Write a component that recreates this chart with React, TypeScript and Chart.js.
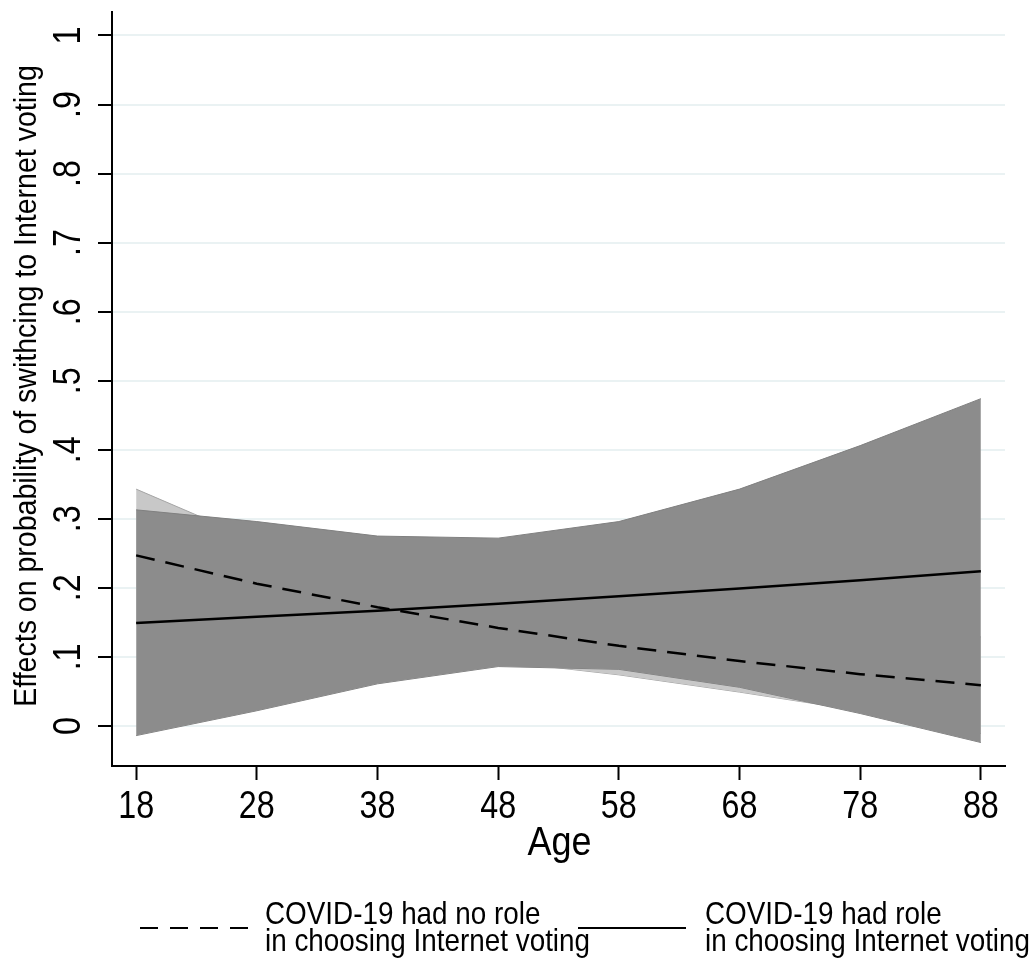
import React, { useEffect, useRef } from "react";
import { Chart, registerables } from "chart.js";
Chart.register(...registerables);

const ages = [18, 28, 38, 48, 58, 68, 78, 88];
const noRoleMean = [0.247, 0.206, 0.172, 0.142, 0.116, 0.094, 0.075, 0.059];
const noRoleUpper = [0.343, 0.268, 0.215, 0.19, 0.158, 0.139, 0.128, 0.129];
const noRoleLower = [0.151, 0.144, 0.129, 0.094, 0.074, 0.049, 0.022, -0.011];
const roleMean = [0.149, 0.158, 0.167, 0.177, 0.188, 0.199, 0.211, 0.224];
const roleUpper = [0.313, 0.296, 0.275, 0.272, 0.296, 0.343, 0.406, 0.474];
const roleLower = [-0.014, 0.022, 0.061, 0.086, 0.082, 0.056, 0.018, -0.024];

const xTicks = [18, 28, 38, 48, 58, 68, 78, 88];
const yTicks = [0, 0.1, 0.2, 0.3, 0.4, 0.5, 0.6, 0.7, 0.8, 0.9, 1];
const yTickLabels = ["0", ".1", ".2", ".3", ".4", ".5", ".6", ".7", ".8", ".9", "1"];

const legendLabels = [
  ["COVID-19 had no role", "in choosing Internet voting"],
  ["COVID-19 had role", "in choosing Internet voting"],
];
const yTitle = "Effects on probability of swithcing to Internet voting";
const xTitle = "Age";

const FONT = '"Liberation Sans", Arial, sans-serif';

const pts = (vals: number[]) => ages.map((a, i) => ({ x: a, y: vals[i] }));

function drawText(
  ctx: CanvasRenderingContext2D,
  text: string,
  x: number,
  y: number,
  size: number,
  sx: number,
  rot = 0,
  align: CanvasTextAlign = "center"
) {
  ctx.save();
  ctx.translate(x, y);
  if (rot) ctx.rotate(rot);
  ctx.scale(sx, 1);
  ctx.font = `${size}px ${FONT}`;
  ctx.textAlign = align;
  ctx.textBaseline = "middle";
  ctx.fillStyle = "#000";
  ctx.fillText(text, 0, 0);
  ctx.restore();
}

const textPlugin = {
  id: "stataTexts",
  afterDraw(chart: any) {
    const { ctx, chartArea } = chart;
    const xs = chart.scales.x;
    const ys = chart.scales.y;
    ctx.save();
    xTicks.forEach((v) => {
      drawText(ctx, String(v), xs.getPixelForValue(v), chartArea.bottom + 42, 38, 0.85);
    });
    yTicks.forEach((v, i) => {
      drawText(ctx, yTickLabels[i], chartArea.left - 42, ys.getPixelForValue(v), 38, 0.85, -Math.PI / 2);
    });
    drawText(ctx, xTitle, (chartArea.left + chartArea.right) / 2 + 1, chartArea.bottom + 78, 40, 0.9);
    drawText(ctx, yTitle, 27, (chartArea.top + chartArea.bottom) / 2 - 3, 31, 0.92, -Math.PI / 2);

    // legend
    const ly = 928;
    ctx.strokeStyle = "#000";
    ctx.lineWidth = 2;
    ctx.setLineDash([18, 12]);
    ctx.beginPath();
    ctx.moveTo(140, ly);
    ctx.lineTo(248, ly);
    ctx.stroke();
    ctx.setLineDash([]);
    ctx.beginPath();
    ctx.moveTo(578, ly);
    ctx.lineTo(686, ly);
    ctx.stroke();
    drawText(ctx, legendLabels[0][0], 265, 915, 32, 0.87, 0, "left");
    drawText(ctx, legendLabels[0][1], 265, 942, 32, 0.87, 0, "left");
    drawText(ctx, legendLabels[1][0], 705, 915, 32, 0.87, 0, "left");
    drawText(ctx, legendLabels[1][1], 705, 942, 32, 0.87, 0, "left");
    ctx.restore();
  },
};

export default function App() {
  const ref = useRef<HTMLCanvasElement | null>(null);
  useEffect(() => {
    document.body.style.margin = "0";
    const canvas = ref.current;
    if (!canvas) return;
    const chart = new Chart(canvas, {
      type: "line",
      data: {
        datasets: [
          {
            label: "role",
            data: pts(roleMean),
            borderColor: "#000",
            borderWidth: 2.5,
            pointRadius: 0,
            fill: false,
          },
          {
            label: "norole",
            data: pts(noRoleMean),
            borderColor: "#000",
            borderWidth: 2.5,
            borderDash: [19, 11],
            pointRadius: 0,
            fill: false,
          },
          {
            label: "roleUpper",
            data: pts(roleUpper),
            borderColor: "rgb(128,128,128)",
            borderWidth: 1,
            backgroundColor: "rgb(140,140,140)",
            pointRadius: 0,
            fill: "+1",
          },
          {
            label: "roleLower",
            data: pts(roleLower),
            borderColor: "rgb(128,128,128)",
            borderWidth: 1,
            pointRadius: 0,
            fill: false,
          },
          {
            label: "noRoleUpper",
            data: pts(noRoleUpper),
            borderColor: "rgb(165,165,165)",
            borderWidth: 1,
            backgroundColor: "rgb(200,200,200)",
            pointRadius: 0,
            fill: "+1",
          },
          {
            label: "noRoleLower",
            data: pts(noRoleLower),
            borderColor: "rgb(165,165,165)",
            borderWidth: 1,
            pointRadius: 0,
            fill: false,
          },
        ],
      },
      options: {
        responsive: false,
        animation: false,
        events: [],
        layout: { padding: { top: 12, right: 29, left: 0, bottom: 0 } },
        elements: { line: { tension: 0 } },
        plugins: {
          legend: { display: false },
          tooltip: { enabled: false },
        },
        scales: {
          x: {
            type: "linear",
            min: 16,
            max: 90,
            afterBuildTicks: (s: any) => {
              s.ticks = xTicks.map((v) => ({ value: v }));
            },
            afterFit: (s: any) => {
              s.height = 192;
            },
            ticks: { display: false },
            grid: {
              display: true,
              drawOnChartArea: false,
              drawTicks: true,
              tickLength: 14,
              tickColor: "#000",
              tickWidth: 2,
              color: "rgba(0,0,0,0)",
            },
            border: { display: true, color: "#000", width: 2 },
          },
          y: {
            type: "linear",
            min: -0.058,
            max: 1.034,
            afterBuildTicks: (s: any) => {
              s.ticks = yTicks.map((v) => ({ value: v }));
            },
            afterFit: (s: any) => {
              s.width = 112;
            },
            ticks: { display: false },
            grid: {
              display: true,
              drawOnChartArea: true,
              drawTicks: true,
              tickLength: 14,
              tickColor: "#000",
              tickWidth: 2,
              color: "rgb(234,242,243)",
              lineWidth: 2,
            },
            border: { display: true, color: "#000", width: 2 },
          },
        },
      },
      plugins: [textPlugin],
    });
    return () => chart.destroy();
  }, []);
  return (
    <div style={{ width: 1034, height: 958, background: "#fff" }}>
      <canvas ref={ref} width={1034} height={958} style={{ display: "block" }} />
    </div>
  );
}
